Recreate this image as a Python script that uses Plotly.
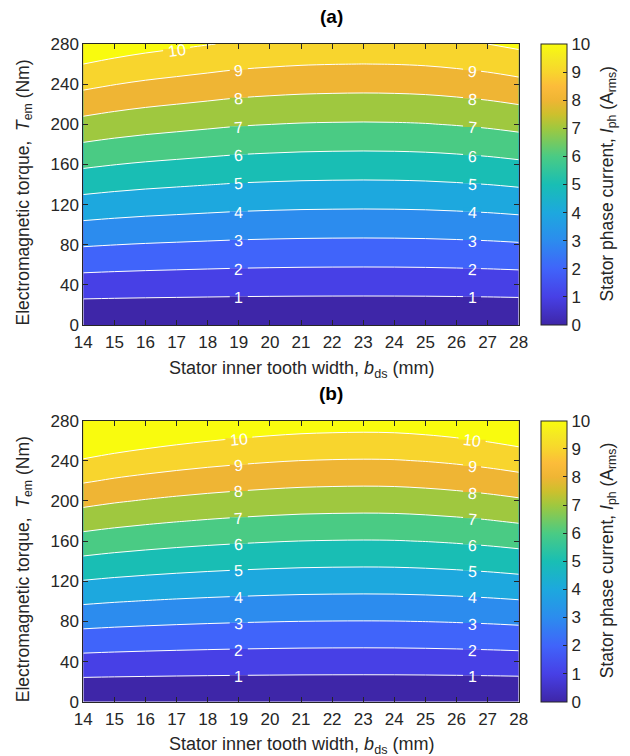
import math
import numpy as np
import plotly.graph_objects as go

# ---------------- data ----------------
# stator inner tooth width b_ds (mm)
tooth_width = [14, 15, 16, 17, 18, 19, 20, 21, 22, 23, 24, 25, 26, 27, 28]
# electromagnetic torque grid (Nm)
torque = [0, 20, 40, 60, 80, 100, 120, 140, 160, 180, 200, 220, 240, 260, 280]
# torque produced per 1 A_rms of phase current (Nm/A)
torque_per_amp_a = [26.0, 26.6, 27.1, 27.5, 27.9, 28.3, 28.55, 28.75, 28.85, 28.9,
                    28.85, 28.7, 28.4, 28.0, 27.45]
torque_per_amp_b = [24.2, 24.75, 25.2, 25.6, 25.95, 26.25, 26.5, 26.7, 26.8, 26.85,
                    26.8, 26.6, 26.3, 25.9, 25.4]
contour_levels = [1, 2, 3, 4, 5, 6, 7, 8, 9, 10]
# where the contour labels sit (b_ds, mm) for each level
label_pos_a = {1: [19, 26.5], 2: [19, 26.5], 3: [19, 26.5], 4: [19, 26.5], 5: [19, 26.5],
               6: [19, 26.5], 7: [19, 26.5], 8: [19, 26.5], 9: [19, 26.5], 10: [17]}
label_pos_b = {1: [19, 26.5], 2: [19, 26.5], 3: [19, 26.5], 4: [19, 26.5], 5: [19, 26.5],
               6: [19, 26.5], 7: [19, 26.5], 8: [19, 26.5], 9: [19, 26.5], 10: [19, 26.5]}
x_ticks = list(range(14, 29))
y_ticks = [0, 40, 80, 120, 160, 200, 240, 280]
cbar_ticks = list(range(0, 11))

# parula-like colour scale
parula = [
    [0.00, "rgb(62,38,168)"],
    [0.10, "rgb(71,64,230)"],
    [0.20, "rgb(64,100,250)"],
    [0.30, "rgb(44,140,238)"],
    [0.40, "rgb(29,168,222)"],
    [0.50, "rgb(25,190,180)"],
    [0.60, "rgb(74,203,132)"],
    [0.70, "rgb(159,200,63)"],
    [0.75, "rgb(205,192,45)"],
    [0.80, "rgb(239,181,52)"],
    [0.85, "rgb(252,188,58)"],
    [0.90, "rgb(248,213,45)"],
    [0.95, "rgb(245,232,35)"],
    [1.00, "rgb(249,251,14)"],
]

W, H = 630, 756
FONT = "Liberation Sans, Arial, Helvetica, sans-serif"
INK = "#262626"
LEFT, RIGHT = 83.3, 518.7
PX_PER_MM = (RIGHT - LEFT) / 14.0
PX_PER_NM = 281.0 / 280.0
TICK_FONT = dict(size=17, color=INK, family=FONT)


def field(kt):
    return [[t / k for k in kt] for t in torque]


def band_color(level):
    f = round(min(level, 10) / 10.0, 2)
    for s, c in parula:
        if abs(s - f) < 1e-9:
            return c
    return parula[-1][1]


def px_x(p):
    return p / W


def px_y(p):
    return 1 - p / H


panels = [
    dict(kt=torque_per_amp_a, labels=label_pos_a, top=44.0, bottom=325.0, title="(a)",
         xa="x", ya="y"),
    dict(kt=torque_per_amp_b, labels=label_pos_b, top=420.7, bottom=701.7, title="(b)",
         xa="x2", ya="y2"),
]

fig = go.Figure()
annotations = []
shapes = []
layout = {}
for i, p in enumerate(panels):
    fig.add_trace(go.Contour(
        x=tooth_width, y=torque, z=field(p["kt"]),
        xaxis=p["xa"], yaxis=p["ya"],
        colorscale=parula, showscale=False,
        contours=dict(start=contour_levels[0], end=contour_levels[-1], size=1,
                      coloring="fill", showlabels=False),
        line=dict(color="white", width=1, smoothing=1.0),
        hoverinfo="skip",
    ))
    # dummy trace carrying the continuous colour bar
    fig.add_trace(go.Scatter(
        x=[tooth_width[0]], y=[-1000], mode="markers", xaxis=p["xa"], yaxis=p["ya"],
        showlegend=False, hoverinfo="skip",
        marker=dict(color=[0], cmin=0, cmax=10, colorscale=parula, showscale=True, size=1,
                    colorbar=dict(
                        x=px_x(541), xanchor="left", xpad=0,
                        y=px_y(p["top"]), yanchor="top", ypad=0,
                        len=p["bottom"] - p["top"], lenmode="pixels",
                        thickness=26, thicknessmode="pixels",
                        outlinewidth=1, outlinecolor=INK,
                        tickvals=cbar_ticks, ticks="inside", ticklen=4, tickcolor=INK,
                        tickfont=TICK_FONT,
                    )),
    ))
    suffix = "" if i == 0 else str(i + 1)
    layout["xaxis" + suffix] = dict(
        domain=[px_x(LEFT), px_x(RIGHT)], range=[14, 28], anchor=p["ya"],
        tickvals=x_ticks, ticks="inside", ticklen=5, tickcolor=INK,
        showline=True, linecolor=INK, linewidth=1, mirror="ticks",
        showgrid=False, zeroline=False, tickfont=TICK_FONT, ticklabelstandoff=2,
    )
    layout["yaxis" + suffix] = dict(
        domain=[px_y(p["bottom"]), px_y(p["top"])], range=[0, 280], anchor=p["xa"],
        tickvals=y_ticks, ticks="inside", ticklen=5, tickcolor=INK,
        showline=True, linecolor=INK, linewidth=1, mirror="ticks",
        showgrid=False, zeroline=False, tickfont=TICK_FONT,
    )

    # contour labels: a gap in the white line (two patches in the band colours) + white text
    for lev in contour_levels:
        for xl in p["labels"][lev]:
            kt0 = float(np.interp(xl, tooth_width, p["kt"]))
            yl = lev * kt0
            dk = float(np.interp(xl + 0.25, tooth_width, p["kt"]) -
                       np.interp(xl - 0.25, tooth_width, p["kt"])) / 0.5
            ang = -math.degrees(math.atan(lev * dk * PX_PER_NM / PX_PER_MM))
            txt = str(lev)
            gap = 9.0 * len(txt) + 9
            for (y0, y1, col) in ((0, 4, band_color(lev)), (-4, 0, band_color(lev - 1))):
                shapes.append(dict(
                    type="rect", xref=p["xa"], yref=p["ya"], layer="above",
                    xsizemode="pixel", xanchor=xl, x0=-gap / 2, x1=gap / 2,
                    ysizemode="pixel", yanchor=yl, y0=y0, y1=y1,
                    fillcolor=col, line=dict(width=0)))
            annotations.append(dict(
                text=txt, x=xl, y=yl, xref=p["xa"], yref=p["ya"], showarrow=False,
                xanchor="center", yanchor="middle", textangle=ang, yshift=-1,
                font=dict(size=16, color="white", family=FONT)))

    mid = (p["top"] + p["bottom"]) / 2
    annotations += [
        dict(text="<b>%s</b>" % p["title"], x=px_x(331), y=px_y(p["top"] - 27),
             xref="paper", yref="paper", showarrow=False, xanchor="center", yanchor="middle",
             font=dict(size=19, color="black", family=FONT)),
        dict(text="Stator inner tooth width, <i>b</i><sub>ds</sub> (mm)",
             x=px_x((LEFT + RIGHT) / 2), y=px_y(p["bottom"] + 44),
             xref="paper", yref="paper", showarrow=False, xanchor="center", yanchor="middle",
             font=dict(size=18, color=INK, family=FONT)),
        dict(text="Electromagnetic torque,\u00a0\u00a0<i>T</i><sub>em</sub> (Nm)",
             x=px_x(24), y=px_y(mid + 8), textangle=-90,
             xref="paper", yref="paper", showarrow=False, xanchor="center", yanchor="middle",
             font=dict(size=17.5, color=INK, family=FONT)),
        dict(text="Stator phase current, <i>I</i><sub>ph</sub> (A<sub>rms</sub>)",
             x=px_x(608), y=px_y(mid), textangle=-90,
             xref="paper", yref="paper", showarrow=False, xanchor="center", yanchor="middle",
             font=dict(size=17.5, color=INK, family=FONT)),
    ]

fig.update_layout(
    width=W, height=H, margin=dict(l=0, r=0, t=0, b=0, autoexpand=False),
    paper_bgcolor="white", plot_bgcolor="white",
    showlegend=False, annotations=annotations, shapes=shapes,
    font=dict(family=FONT, color=INK), **layout,
)
fig.write_html("out.html")
